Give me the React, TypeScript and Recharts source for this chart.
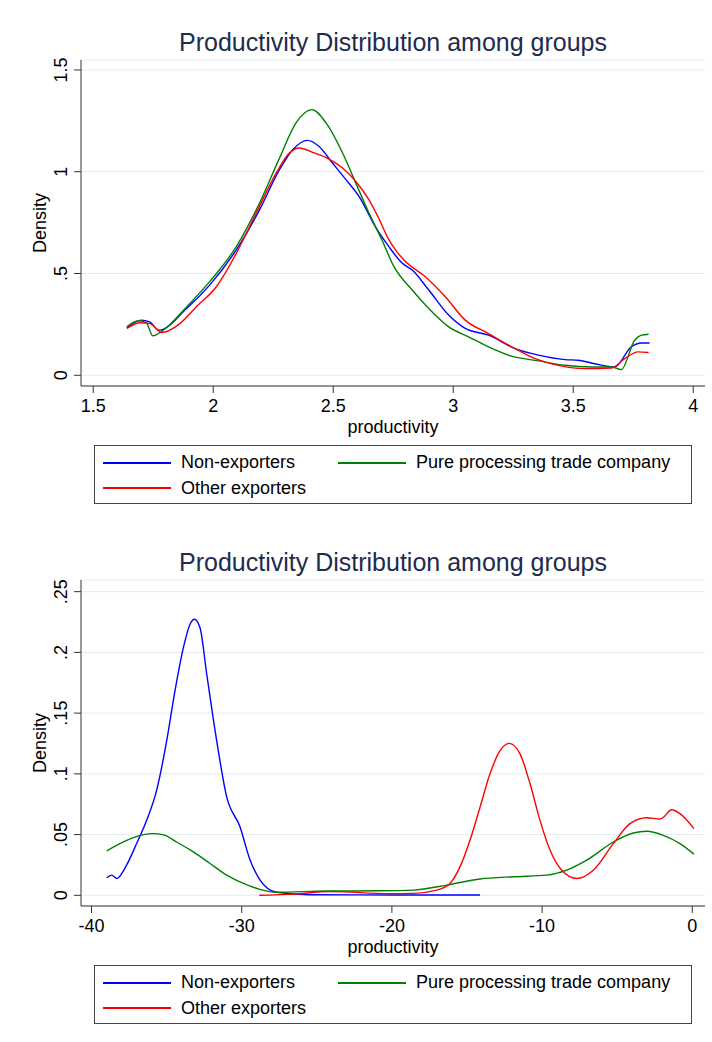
import React from 'react';
import { LineChart, Line, XAxis, YAxis, CartesianGrid, Legend } from 'recharts';

const FONT = '"Liberation Sans", Arial, Helvetica, sans-serif';

const TITLE = 'Productivity Distribution among groups';
const NAMES = ['Non-exporters', 'Pure processing trade company', 'Other exporters'];
const COLORS = ['#0000ff', '#008000', '#ff0000'];

// upper panel
const topXTicks = [1.5, 2, 2.5, 3, 3.5, 4];
const topYTicks = [0, 0.5, 1, 1.5];

const nonExpTopX = [1.64, 1.70, 1.735, 1.774, 1.889, 1.985, 2.096, 2.193, 2.276, 2.331, 2.393, 2.44, 2.496, 2.553, 2.608, 2.68, 2.732, 2.788, 2.829, 2.898, 2.981, 3.05, 3.147, 3.258, 3.355, 3.466, 3.52, 3.59, 3.673, 3.742, 3.784, 3.818];
const nonExpTopY = [0.233, 0.271, 0.262, 0.222, 0.328, 0.443, 0.616, 0.813, 1.01, 1.108, 1.154, 1.125, 1.044, 0.961, 0.878, 0.72, 0.632, 0.55, 0.517, 0.419, 0.296, 0.23, 0.197, 0.131, 0.099, 0.077, 0.074, 0.057, 0.041, 0.14, 0.159, 0.159];

const procTopX = [1.64, 1.688, 1.72, 1.748, 1.792, 1.889, 1.985, 2.096, 2.193, 2.276, 2.345, 2.411, 2.47, 2.539, 2.594, 2.649, 2.705, 2.75, 2.829, 2.898, 2.981, 3.064, 3.147, 3.244, 3.355, 3.466, 3.577, 3.66, 3.70, 3.756, 3.784, 3.814];
const procTopY = [0.238, 0.268, 0.26, 0.194, 0.222, 0.336, 0.46, 0.632, 0.846, 1.067, 1.24, 1.305, 1.24, 1.092, 0.944, 0.797, 0.66, 0.54, 0.419, 0.328, 0.238, 0.189, 0.14, 0.094, 0.071, 0.049, 0.041, 0.041, 0.028, 0.172, 0.197, 0.202];

const otherTopX = [1.64, 1.695, 1.736, 1.785, 1.861, 1.93, 2.013, 2.096, 2.179, 2.262, 2.317, 2.359, 2.414, 2.483, 2.539, 2.594, 2.649, 2.69, 2.73, 2.76, 2.80, 2.884, 2.967, 3.05, 3.147, 3.244, 3.341, 3.438, 3.549, 3.66, 3.714, 3.77, 3.814];
const otherTopY = [0.23, 0.258, 0.254, 0.21, 0.254, 0.337, 0.435, 0.599, 0.797, 0.993, 1.092, 1.117, 1.095, 1.062, 1.018, 0.952, 0.862, 0.77, 0.67, 0.615, 0.56, 0.484, 0.386, 0.271, 0.205, 0.14, 0.082, 0.049, 0.033, 0.036, 0.082, 0.115, 0.112];

// lower panel
const botXTicks = [-40, -30, -20, -10, 0];
const botYTicks = [0, 0.05, 0.1, 0.15, 0.2, 0.25];

const nonExpBotX = [-38.99, -38.66, -38.32, -37.66, -36.99, -36.32, -35.66, -34.99, -34.44, -33.88, -33.44, -33.15, -32.78, -32.33, -31.67, -31.0, -30.12, -29.45, -28.79, -27.68, -25.46, -20, -14.13];
const nonExpBotY = [0.0144, 0.0166, 0.0139, 0.025, 0.0428, 0.062, 0.0866, 0.1276, 0.1686, 0.2041, 0.2232, 0.2273, 0.2205, 0.1822, 0.1276, 0.081, 0.0566, 0.0293, 0.0128, 0.0025, 0.0005, 0.0003, 0.0003];

const procBotX = [-38.99, -37.66, -36.6, -35.9, -35.2, -34.33, -33.22, -32.11, -31.0, -29.89, -28.79, -27.68, -24.35, -21, -18.57, -16.35, -14.13, -11.91, -9.69, -8.36, -7.03, -5.26, -3.93, -3.04, -1.93, -0.82, 0.11];
const procBotY = [0.0366, 0.0453, 0.0498, 0.0508, 0.0497, 0.0439, 0.0357, 0.0262, 0.0166, 0.0098, 0.0049, 0.0025, 0.0035, 0.0037, 0.0043, 0.0084, 0.0134, 0.0153, 0.0166, 0.0207, 0.0289, 0.0439, 0.0513, 0.0527, 0.0494, 0.0426, 0.0339];

const otherBotX = [-28.83, -26.57, -24.12, -20.13, -18.57, -17.02, -16.13, -15.47, -14.80, -14.13, -13.47, -12.80, -12.18, -11.47, -10.80, -10.14, -9.47, -8.69, -7.69, -6.59, -5.26, -4.15, -3.04, -2.15, -1.95, -1.37, -0.82, 0.11];
const otherBotY = [0.0, 0.001, 0.003, 0.0014, 0.0016, 0.0043, 0.0098, 0.0234, 0.0453, 0.0726, 0.1, 0.1191, 0.1251, 0.1164, 0.0918, 0.0617, 0.0371, 0.0207, 0.0139, 0.0207, 0.0426, 0.059, 0.0639, 0.0628, 0.064, 0.0705, 0.0672, 0.0549];

const pts = (xs: number[], ys: number[]) => xs.map((x, i) => ({ x, y: ys[i] }));

const fmt = (v: number) => String(v).replace(/^0\./, '.').replace(/^-0\./, '-.');

const XTick = (props: any) => {
  const { x, y, payload } = props;
  return (
    <text x={x} y={y} dy="0.71em" textAnchor="middle" fontSize={18} fontFamily={FONT} fill="#000">
      {fmt(payload.value)}
    </text>
  );
};

const YTick = (props: any) => {
  const { x, y, payload } = props;
  return (
    <text x={x} y={y} transform={`rotate(-90, ${x}, ${y})`} textAnchor="middle" fontSize={18} fontFamily={FONT} fill="#000">
      {fmt(payload.value)}
    </text>
  );
};

function LegendBox(props: { series: { name: string; color: string }[] }) {
  return (
    <div style={{ boxSizing: 'border-box', width: 598, height: 59, border: '1px solid #444', background: '#fff',
      padding: '4px 0 0 8px', display: 'grid', gridTemplateColumns: '235px auto', gridAutoRows: '25.5px',
      fontFamily: FONT, fontSize: 18, color: '#000' }}>
      {props.series.map((s) => (
        <div key={s.name} style={{ display: 'flex', alignItems: 'center', whiteSpace: 'nowrap' }}>
          <div style={{ width: 68, height: 2, background: s.color, marginRight: 10, flex: 'none' }} />
          <span>{s.name}</span>
        </div>
      ))}
    </div>
  );
}

function Panel(props: {
  top: number;
  xDomain: number[];
  yDomain: number[];
  xTicks: number[];
  yTicks: number[];
  data: { x: number; y: number }[][];
}) {
  const series = props.data.map((d, i) => ({ name: NAMES[i], color: COLORS[i], data: d }));
  return (
    <div style={{ position: 'absolute', left: 0, top: props.top, width: 712, height: 520 }}>
      <div style={{ position: 'absolute', left: 81, width: 624, top: 30, textAlign: 'center',
        fontFamily: FONT, fontSize: 25, lineHeight: '25px', color: '#1e2b4e', zIndex: 2 }}>
        {TITLE}
      </div>
      <LineChart width={712} height={520} margin={{ top: 60, right: 7, bottom: 84, left: 0 }}>
        <CartesianGrid vertical={false} stroke="#e4edf1" strokeWidth={1} />
        <XAxis
          type="number"
          dataKey="x"
          domain={props.xDomain}
          ticks={props.xTicks}
          allowDataOverflow
          height={50}
          tickSize={7}
          tickMargin={6}
          tick={<XTick />}
          stroke="#333"
          label={(p: any) => {
            const vb = p.viewBox;
            return (
              <text x={vb.x + vb.width / 2} y={vb.y + 47} textAnchor="middle" fontSize={18} fontFamily={FONT} fill="#000">
                productivity
              </text>
            );
          }}
        />
        <YAxis
          type="number"
          dataKey="y"
          domain={props.yDomain}
          ticks={props.yTicks}
          allowDataOverflow
          width={81}
          tickSize={7}
          tickMargin={7}
          tick={<YTick />}
          stroke="#333"
          label={(p: any) => {
            const vb = p.viewBox;
            const cx = vb.x + 46;
            const cy = vb.y + vb.height / 2;
            return (
              <text x={cx} y={cy} transform={`rotate(-90, ${cx}, ${cy})`} textAnchor="middle" fontSize={18} fontFamily={FONT} fill="#000">
                Density
              </text>
            );
          }}
        />
        {series.map((s) => (
          <Line
            key={s.name}
            data={s.data}
            dataKey="y"
            name={s.name}
            type="monotone"
            stroke={s.color}
            strokeWidth={1.4}
            dot={false}
            activeDot={false}
            isAnimationActive={false}
          />
        ))}
        <Legend
          layout="horizontal"
          verticalAlign="middle"
          align="center"
          wrapperStyle={{ left: 94, top: 445, width: 598, height: 59 }}
          content={() => <LegendBox series={series} />}
        />
      </LineChart>
    </div>
  );
}

export default function App() {
  return (
    <div style={{ position: 'absolute', left: 0, top: 0, width: 712, height: 1042, background: '#fff' }}>
      <Panel
        top={0}
        xDomain={[1.449, 4.049]}
        yDomain={[-0.0526, 1.549]}
        xTicks={topXTicks}
        yTicks={topYTicks}
        data={[pts(nonExpTopX, nonExpTopY), pts(procTopX, procTopY), pts(otherTopX, otherTopY)]}
      />
      <Panel
        top={520}
        xDomain={[-40.7, 0.846]}
        yDomain={[-0.0088, 0.2596]}
        xTicks={botXTicks}
        yTicks={botYTicks}
        data={[pts(nonExpBotX, nonExpBotY), pts(procBotX, procBotY), pts(otherBotX, otherBotY)]}
      />
    </div>
  );
}
